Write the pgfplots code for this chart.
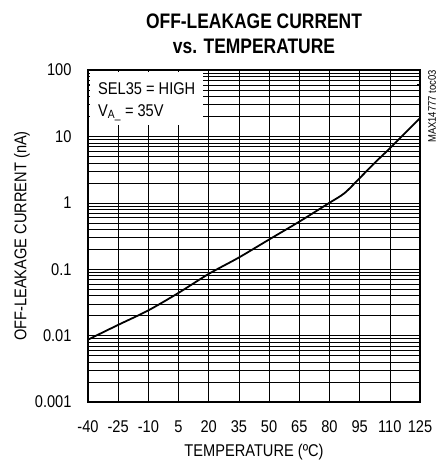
\documentclass[border=0pt]{standalone}
\usepackage{fontspec}
\setmainfont[FakeStretch=0.86]{Liberation Sans}
\newfontfamily\titlefont[FakeStretch=0.83]{Liberation Sans}
\usepackage{pgfplots}
\pgfplotsset{compat=1.18}
\begin{document}
\begin{tikzpicture}
\useasboundingbox (0,0) rectangle (447pt,462pt);
\begin{axis}[
  at={(88pt,60pt)}, anchor=south west,
  scale only axis, width=332pt, height=332pt,
  ymode=log, log basis y=10,
  xmin=-40, xmax=125, ymin=0.001, ymax=100,
  xtick={-40,-25,...,125},
  ytick={0.001,0.01,0.1,1,10,100},
  yticklabels={0.001,0.01,0.1,1,10,100},
  minor ytick={0.002,0.003,0.004,0.005,0.006,0.007,0.008,0.009,
               0.02,0.03,0.04,0.05,0.06,0.07,0.08,0.09,
               0.2,0.3,0.4,0.5,0.6,0.7,0.8,0.9,
               2,3,4,5,6,7,8,9,
               20,30,40,50,60,70,80,90},
  /pgf/number format/assume math mode=true,
  tick label style={font=\fontsize{17}{19}\selectfont},
  label style={font=\fontsize{17}{19}\selectfont},
  xlabel={TEMPERATURE (ºC)},
  ylabel={OFF-LEAKAGE CURRENT (nA)},
  xmajorgrids=true, ymajorgrids=true, yminorgrids=true,
  major grid style={black, line width=0.6pt},
  minor grid style={black, line width=0.45pt},
  axis line style={line width=2pt},
  tick style={black, line width=0.5pt},
  tick align=inside,
  yticklabel style={xshift=-13pt},
  xticklabel style={yshift=-15pt},
  xlabel style={yshift=-5pt},
  ylabel style={yshift=-2pt},
  clip=false,
]
\addplot[black, line width=1.8pt, smooth] coordinates {
(-40,0.0087) (-25,0.0145) (-10,0.024) (5,0.044) (20,0.085) (35,0.15)
(50,0.28) (65,0.52) (80,1.0) (87.5,1.4) (95,2.35) (102.5,4.0)
(110,6.6) (117.5,11.2) (125,18.8)};
\node[anchor=north west, fill=white, inner sep=0pt, minimum width=113pt, minimum height=53pt,
      xshift=2pt, yshift=-2pt] at (rel axis cs:0,1) {};
\node[anchor=north west, align=left, inner sep=0pt, font=\fontsize{17}{22}\selectfont,
      xshift=10pt, yshift=-12pt] at (rel axis cs:0,1) {SEL35 = HIGH\\V\textsubscript{A\_} = 35V};
\node[xshift=8pt, rotate=90, anchor=north east, inner sep=0pt, font=\fontsize{11}{13}\selectfont]
      at (rel axis cs:1,1) {MAX14777 toc03};
\end{axis}
\node[align=center, font=\titlefont\bfseries\fontsize{21}{25}\selectfont, anchor=north] at (254pt,452pt)
  {OFF-LEAKAGE CURRENT\\vs. TEMPERATURE};
\end{tikzpicture}
\end{document}
